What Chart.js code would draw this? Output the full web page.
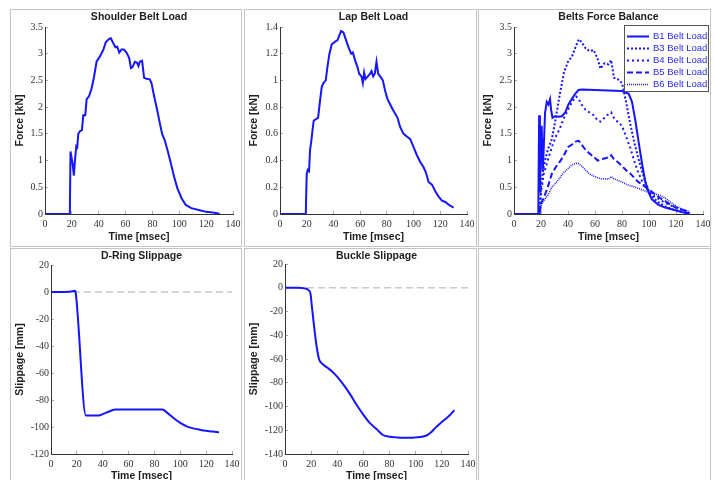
<!DOCTYPE html>
<html>
<head>
<meta charset="utf-8">
<script src="https://cdn.jsdelivr.net/npm/chart.js@4.4.1/dist/chart.umd.min.js"></script>
<style>
html, body { margin: 0; padding: 0; background: #fff; overflow: hidden; }
body { width: 715px; height: 480px; position: relative; }
.panel { position: absolute; border: 1px solid #c4c4c4; box-sizing: border-box; background: #fff; }
.panel canvas { display: block; }
</style>
</head>
<body>
<div class="panel" style="left:10px;top:9px;width:232px;height:238px"><canvas id="shoulderChart" width="230" height="236"></canvas></div>
<div class="panel" style="left:244px;top:9px;width:233px;height:238px"><canvas id="lapChart" width="231" height="236"></canvas></div>
<div class="panel" style="left:478px;top:9px;width:233px;height:238px"><canvas id="balanceChart" width="231" height="236"></canvas></div>
<div class="panel" style="left:10px;top:248px;width:232px;height:238px"><canvas id="dringChart" width="230" height="236"></canvas></div>
<div class="panel" style="left:244px;top:248px;width:233px;height:238px"><canvas id="buckleChart" width="231" height="236"></canvas></div>
<div class="panel" style="left:478px;top:248px;width:233px;height:238px"></div>
<script>
// shoulder belt load [kN]
const shoulderTime = [0, 18.5, 19, 20.5, 21.5, 22.3, 23.3, 24, 24.8, 26, 27.5, 28.5, 30, 31, 32.7, 34.7, 36.4, 38.4, 40.9, 43.4, 45.3, 47.8, 49, 50.8, 52.5, 53.8, 55.3, 57, 58.7, 60.7, 62.7, 64, 65.2, 66.9, 68.6, 69.6, 70.6, 72.3, 73.8, 75.6, 78, 79.3, 81.3, 83.5, 85.5, 87.2, 89.2, 91.2, 93.7, 96.1, 98.6, 101.6, 104.8, 109, 115.2, 120.2, 125, 128.8, 130];
const shoulderLoad = [0, 0, 1.17, 0.95, 0.72, 1.0, 1.27, 1.25, 1.5, 1.55, 1.57, 1.85, 1.85, 2.15, 2.2, 2.35, 2.55, 2.85, 2.95, 3.07, 3.22, 3.28, 3.29, 3.2, 3.12, 3.13, 3.02, 3.08, 3.08, 3.02, 2.92, 2.73, 2.75, 2.85, 2.83, 2.77, 2.85, 2.87, 2.55, 2.53, 2.52, 2.45, 2.2, 1.95, 1.7, 1.5, 1.38, 1.2, 0.95, 0.7, 0.48, 0.3, 0.17, 0.11, 0.07, 0.04, 0.03, 0.01, 0];

// lap belt load [kN]
const lapTime = [0, 19.3, 20, 20.75, 21.75, 22.5, 23.5, 24.25, 25.25, 27, 28.5, 30, 31.25, 32.5, 34.25, 35.5, 37, 38.75, 40, 41.25, 43, 44.5, 45.75, 47.5, 49.5, 51.25, 53.25, 54.5, 56.25, 58, 59.25, 61, 62, 63, 64, 65.75, 67.5, 68.5, 69.75, 71, 72.25, 73.5, 75, 77, 78.75, 80.5, 82.5, 84.5, 86.25, 88, 90, 92.5, 95, 97.5, 100, 102.5, 105, 107.5, 109.25, 111.25, 113.75, 116.25, 118.75, 121.25, 123.75, 126.25, 129.5, 130];
const lapLoad = [0, 0, 0.3, 0.33, 0.32, 0.48, 0.55, 0.62, 0.7, 0.71, 0.72, 0.85, 0.95, 0.98, 1.0, 1.1, 1.2, 1.27, 1.28, 1.29, 1.3, 1.34, 1.37, 1.36, 1.3, 1.25, 1.2, 1.21, 1.15, 1.1, 1.05, 1.03, 0.98, 1.06, 1.01, 1.03, 1.05, 1.07, 1.03, 1.05, 1.14, 1.05, 1.03, 1.0, 0.92, 0.86, 0.82, 0.78, 0.75, 0.72, 0.65, 0.6, 0.58, 0.56, 0.5, 0.44, 0.39, 0.35, 0.31, 0.24, 0.22, 0.17, 0.13, 0.1, 0.09, 0.07, 0.05, 0.05];

// belts force balance [kN]
const b1Time = [0, 18, 18.6, 19.2, 19.8, 20.5, 21.3, 22, 23, 24.3, 25.5, 26.7, 27.5, 28.5, 30.4, 33, 35.4, 38, 40.3, 42.8, 45.3, 47.8, 50.2, 60, 70, 80, 85, 87.4, 89.9, 92.3, 94.8, 97.3, 99.8, 102, 107, 112, 119.5, 127, 130];
const b1Load = [0, 0, 1.85, 0.4, 1.1, 1.65, 0.8, 1.2, 1.9, 2.1, 2.05, 2.15, 1.95, 1.8, 1.83, 1.82, 1.83, 1.9, 2.05, 2.15, 2.25, 2.32, 2.33, 2.32, 2.31, 2.3, 2.25, 2.1, 1.75, 1.35, 0.95, 0.6, 0.4, 0.28, 0.17, 0.12, 0.07, 0.02, 0.02];
const balanceTime = [0, 19, 20, 22, 25, 28, 31, 34, 37, 40, 43, 46, 48, 50, 53, 56, 59, 62, 64, 67, 70, 72, 74, 77, 80, 83, 86, 89, 92, 96, 100, 104, 108, 112, 116, 120, 125, 130];
const b3Load = [0, 0, 0.5, 0.9, 1.2, 1.4, 1.8, 2.25, 2.65, 2.85, 2.95, 3.15, 3.27, 3.22, 3.1, 3.05, 3.07, 2.9, 2.72, 2.82, 2.8, 2.88, 2.55, 2.52, 2.45, 2.1, 1.7, 1.35, 1.05, 0.7, 0.42, 0.28, 0.2, 0.14, 0.1, 0.07, 0.04, 0.02];
const b4Load = [0, 0, 0.4, 0.75, 1.0, 1.25, 1.45, 1.6, 1.8, 1.95, 2.1, 2.2, 2.15, 2.05, 1.95, 1.9, 1.85, 1.75, 1.73, 1.8, 1.87, 1.9, 1.8, 1.72, 1.65, 1.45, 1.25, 1.0, 0.78, 0.55, 0.42, 0.33, 0.27, 0.21, 0.16, 0.12, 0.07, 0.03];
const b5Load = [0, 0, 0.2, 0.3, 0.5, 0.75, 0.88, 0.98, 1.1, 1.25, 1.3, 1.36, 1.37, 1.3, 1.2, 1.13, 1.07, 1.0, 1.02, 1.04, 1.06, 1.1, 1.03, 0.97, 0.9, 0.82, 0.76, 0.68, 0.6, 0.53, 0.46, 0.38, 0.3, 0.24, 0.17, 0.12, 0.08, 0.04];
const b6Load = [0, 0, 0.15, 0.25, 0.35, 0.5, 0.58, 0.68, 0.78, 0.85, 0.92, 0.95, 0.94, 0.9, 0.82, 0.75, 0.71, 0.68, 0.66, 0.66, 0.65, 0.7, 0.66, 0.63, 0.6, 0.56, 0.53, 0.51, 0.48, 0.44, 0.4, 0.38, 0.35, 0.3, 0.22, 0.15, 0.08, 0.05];

// slippage [mm]
const dringTime = [0, 10, 17, 18.5, 19, 27, 30, 37, 40, 45, 50, 60, 70, 80, 86, 90, 95, 100, 105, 110, 115, 120, 125, 130];
const dringSlip = [0, 0, 0.5, 1, 0, -91.5, -91.5, -91.5, -90.5, -88.5, -87, -87, -87, -87, -87, -89.5, -93.5, -97, -99.5, -101, -102, -102.8, -103.3, -104];
const buckleTime = [0, 10, 15, 18, 19.5, 20.5, 22, 24, 26, 28, 32, 36, 40, 45, 50, 55, 60, 65, 70, 75, 80, 85, 90, 95, 100, 105, 109, 112, 115, 120, 125, 129.5];
const buckleSlip = [0, 0, -0.5, -2, -5, -15, -30, -48, -60, -63.5, -67, -70.5, -75, -82, -90, -99, -107, -114, -119, -124, -125.5, -126, -126.3, -126.3, -126, -125.5, -124, -121.5, -118, -113, -108.5, -103];

const zeroTime = [0, 140];
const zeroLine = [0, 0];

const BLUE = '#1515ff';
const tickFont = { family: "'Liberation Serif', 'Times New Roman', serif", size: 10 };
const boldFont = { family: "'Liberation Sans', Arial, sans-serif", size: 10.5, weight: 'bold' };

function pts(xs, ys) {
    return xs.map((x, i) => ({ x: x, y: ys[i] }));
}

function line(label, xs, ys, extra) {
    return Object.assign({
        label: label,
        data: pts(xs, ys),
        borderColor: BLUE,
        borderWidth: 2,
        pointRadius: 0,
        tension: 0,
        fill: false
    }, extra || {});
}

function zeroDashed() {
    return {
        label: 'zero',
        data: pts(zeroTime, zeroLine),
        borderColor: '#c8c8c8',
        borderWidth: 1.5,
        borderDash: [7, 4],
        pointRadius: 0,
        order: 5
    };
}

// plain numbers on the axes: 3 not 3.0
function fmt(v) {
    return String(Number(v.toFixed(2)));
}

// legend drawn inside the plot, top right
const boxLegend = {
    id: 'boxLegend',
    afterDraw(chart) {
        const ctx = chart.ctx;
        const x0 = 145, y0 = 15, w = 84, h = 66;
        ctx.save();
        ctx.strokeStyle = '#555';
        ctx.lineWidth = 1;
        ctx.setLineDash([]);
        ctx.strokeRect(x0 + 0.5, y0 + 0.5, w, h);
        ctx.font = "9.5px 'Liberation Sans', Arial, sans-serif";
        ctx.textBaseline = 'middle';
        chart.data.datasets.forEach((ds, i) => {
            const y = y0 + 11.5 + i * 12;
            ctx.strokeStyle = ds.borderColor;
            ctx.lineWidth = ds.borderWidth;
            ctx.setLineDash(ds.borderDash || []);
            ctx.beginPath();
            ctx.moveTo(x0 + 3, y);
            ctx.lineTo(x0 + 25, y);
            ctx.stroke();
            ctx.setLineDash([]);
            ctx.fillStyle = '#2a2aff';
            ctx.fillText(ds.label, x0 + 29, y);
        });
        ctx.restore();
    }
};

function makeChart(id, geo, title, yTitle, yMin, yMax, yStep, datasets, plugins) {
    const canvas = document.getElementById(id);
    const W = canvas.width, H = canvas.height;
    return new Chart(canvas, {
        type: 'line',
        data: { datasets: datasets },
        options: {
            responsive: false,
            animation: false,
            layout: { padding: { left: 0, top: 0, right: W - geo.right, bottom: 0 } },
            plugins: {
                legend: { display: false },
                tooltip: { enabled: false },
                title: {
                    display: true,
                    text: title,
                    fullSize: false,
                    color: '#1e1e1e',
                    font: boldFont,
                    padding: { top: 1, bottom: geo.top - 1 - 12.6 }
                }
            },
            scales: {
                x: {
                    type: 'linear',
                    min: 0,
                    max: 140,
                    ticks: { stepSize: 20, font: tickFont, color: '#333', padding: 7, maxRotation: 0, callback: fmt },
                    grid: { drawOnChartArea: false, drawTicks: true, tickLength: -3, color: '#aaa' },
                    border: { color: '#333', width: 1 },
                    title: { display: true, text: 'Time [msec]', font: boldFont, color: '#1e1e1e', padding: { top: 0, bottom: 3 } },
                    afterFit: s => { s.height = H - geo.bottom; s.paddingLeft = 0; s.paddingRight = 0; }
                },
                y: {
                    type: 'linear',
                    min: yMin,
                    max: yMax,
                    ticks: { stepSize: yStep, font: tickFont, color: '#333', padding: 5, callback: fmt },
                    grid: { drawOnChartArea: false, drawTicks: true, tickLength: -3, color: '#aaa' },
                    border: { color: '#333', width: 1 },
                    title: { display: true, text: yTitle, font: boldFont, color: '#1e1e1e', padding: { top: 3, bottom: 0 } },
                    afterFit: s => { s.width = geo.left; s.paddingTop = 0; s.paddingBottom = 0; }
                }
            }
        },
        plugins: plugins || []
    });
}

makeChart('shoulderChart', { left: 34, right: 222, top: 17, bottom: 204 },
    'Shoulder Belt Load', 'Force [kN]', 0, 3.5, 0.5,
    [line('Shoulder Belt Load', shoulderTime, shoulderLoad)]);

makeChart('lapChart', { left: 35, right: 222, top: 17, bottom: 204 },
    'Lap Belt Load', 'Force [kN]', 0, 1.4, 0.2,
    [line('Lap Belt Load', lapTime, lapLoad)]);

makeChart('balanceChart', { left: 35, right: 224, top: 17, bottom: 204 },
    'Belts Force Balance', 'Force [kN]', 0, 3.5, 0.5,
    [
        line('B1 Belt Load', b1Time, b1Load),
        line('B3 Belt Load', balanceTime, b3Load, { borderDash: [2, 2] }),
        line('B4 Belt Load', balanceTime, b4Load, { borderDash: [2, 3] }),
        line('B5 Belt Load', balanceTime, b5Load, { borderDash: [6, 3] }),
        line('B6 Belt Load', balanceTime, b6Load, { borderDash: [1, 1], borderWidth: 1.5 })
    ],
    [boxLegend]);

makeChart('dringChart', { left: 40, right: 221, top: 16, bottom: 205 },
    'D-Ring Slippage', 'Slippage [mm]', -120, 20, 20,
    [line('D-Ring Slippage', dringTime, dringSlip, { cubicInterpolationMode: 'monotone' }), zeroDashed()]);

makeChart('buckleChart', { left: 40, right: 223, top: 15, bottom: 205 },
    'Buckle Slippage', 'Slippage [mm]', -140, 20, 20,
    [line('Buckle Slippage', buckleTime, buckleSlip, { cubicInterpolationMode: 'monotone' }), zeroDashed()]);
</script>
</body>
</html>
